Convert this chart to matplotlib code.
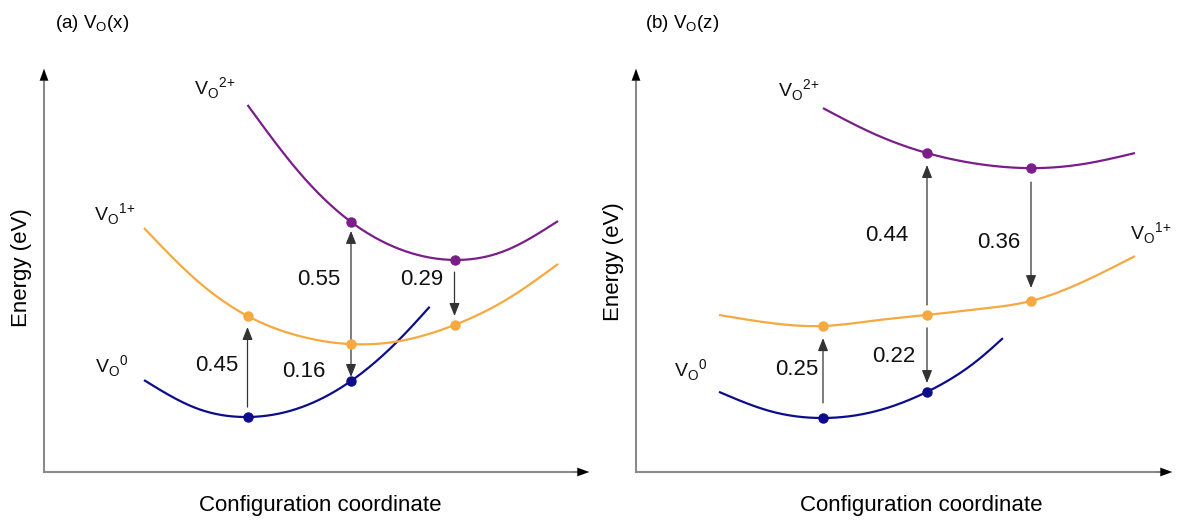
import numpy as np
import matplotlib
matplotlib.use("Agg")
import matplotlib.pyplot as plt

plt.rcParams['font.family'] = ['Liberation Sans', 'DejaVu Sans']
plt.rcParams['mathtext.fontset'] = 'custom'
plt.rcParams['mathtext.rm'] = 'Liberation Sans'

# ---------------- data (configuration coordinate, energy in eV) ----------------
# Panel (a) V_O(x)
a_v0_x = [0, 0.5, 1, 1.5, 2, 2.5, 2.76]
a_v0_e = [0.164, 0.04, 0.0, 0.04, 0.16, 0.36, 0.49]
a_v1_x = [0, 0.5, 1, 1.5, 2, 2.5, 3, 3.5, 4]
a_v1_e = [0.84, 0.611, 0.449, 0.36, 0.324, 0.34, 0.409, 0.521, 0.68]
a_v2_x = [1, 1.5, 2, 2.5, 3, 3.5, 4]
a_v2_e = [1.387, 1.087, 0.867, 0.741, 0.698, 0.741, 0.871]
a_v0_pts = [1, 2]
a_v1_pts = [1, 2, 3]
a_v2_pts = [2, 3]
# transitions: x, start energy, end energy, label
a_arrows_x = [1, 2, 2, 3]
a_arrows_from = [0.044, 0.342, 0.307, 0.644]
a_arrows_to = [0.40, 0.827, 0.178, 0.449]
a_labels = ['0.45', '0.55', '0.16', '0.29']

# Panel (b) V_O(z)
b_v0_x = [0, 0.5, 1, 1.5, 2, 2.5, 2.73]
b_v0_e = [0.071, 0.018, 0.0, 0.018, 0.071, 0.16, 0.217]
b_v1_x = [0, 0.5, 1, 1.5, 2, 2.5, 3, 3.5, 4]
b_v1_e = [0.280, 0.258, 0.250, 0.265, 0.280, 0.296, 0.318, 0.37, 0.44]
b_v2_x = [1, 1.5, 2, 2.5, 3, 3.5, 4]
b_v2_e = [0.842, 0.771, 0.72, 0.690, 0.679, 0.690, 0.72]
b_v0_pts = [1, 2]
b_v1_pts = [1, 2, 3]
b_v2_pts = [2, 3]
b_arrows_x = [1, 2, 2, 3]
b_arrows_from = [0.041, 0.245, 0.307, 0.641]
b_arrows_to = [0.217, 0.095, 0.6875, 0.353]
b_labels = ['0.25', '0.22', '0.44', '0.36']

C_V0 = '#0d0d8c'
C_V1 = '#f5a940'
C_V2 = '#7a1f8a'


def spline(x, y, n=300):
    """natural cubic spline for a smooth drawn curve through the read points"""
    x = np.asarray(x, float); y = np.asarray(y, float)
    m = len(x); h = np.diff(x)
    A = np.zeros((m, m)); r = np.zeros(m)
    A[0, 0] = A[-1, -1] = 1
    for i in range(1, m - 1):
        A[i, i - 1] = h[i - 1]; A[i, i] = 2 * (h[i - 1] + h[i]); A[i, i + 1] = h[i]
        r[i] = 3 * ((y[i + 1] - y[i]) / h[i] - (y[i] - y[i - 1]) / h[i - 1])
    c = np.linalg.solve(A, r)
    b = (y[1:] - y[:-1]) / h - h * (2 * c[:-1] + c[1:]) / 3
    d = (c[1:] - c[:-1]) / (3 * h)
    xs = np.linspace(x[0], x[-1], n)
    idx = np.clip(np.searchsorted(x, xs) - 1, 0, m - 2)
    dx = xs - x[idx]
    ys = y[idx] + b[idx] * dx + c[idx] * dx ** 2 + d[idx] * dx ** 3
    return xs, ys


fig = plt.figure(figsize=(11.78, 5.21), dpi=100)
W, H = 1178.0, 521.0


def make_axes(left_px, right_px, top_px, bottom_px):
    ax = fig.add_axes([left_px / W, 1 - bottom_px / H, (right_px - left_px) / W,
                       (bottom_px - top_px) / H])
    for s in ax.spines.values():
        s.set_visible(False)
    ax.set_xticks([]); ax.set_yticks([])
    ax.patch.set_alpha(0)
    ax.plot([0, 0], [0, 0.985], transform=ax.transAxes, color='#8a8a8a', lw=1.5, clip_on=False)
    ax.plot([0, 0.985], [0, 0], transform=ax.transAxes, color='#8a8a8a', lw=1.5, clip_on=False)
    ax.annotate('', xy=(0, 1), xytext=(0, 0.96), xycoords='axes fraction',
                arrowprops=dict(arrowstyle='-|>,head_length=0.6,head_width=0.22', color='black', lw=0.1, mutation_scale=14))
    ax.annotate('', xy=(1, 0), xytext=(0.96, 0), xycoords='axes fraction',
                arrowprops=dict(arrowstyle='-|>,head_length=0.6,head_width=0.22', color='black', lw=0.1, mutation_scale=14))
    return ax


def vlabel(sup):
    return r'V$_\mathregular{O}$$^\mathregular{' + sup + '}$'


def draw_panel(ax, curves, arrows, labels, label_pos, vlabels):
    for (cx, ce, pts, col) in curves:
        xs, ys = spline(cx, ce)
        ax.plot(xs, ys, color=col, lw=1.6, solid_capstyle='butt', zorder=2)
        pe = [ce[cx.index(p)] for p in pts]
        ax.plot(pts, pe, 'o', color=col, ms=6.5, zorder=4)
    ax_x, a_from, a_to = arrows
    for x, e0, e1 in zip(ax_x, a_from, a_to):
        ax.annotate('', xy=(x, e1), xytext=(x, e0),
                    arrowprops=dict(arrowstyle='-|>,head_length=0.55,head_width=0.22',
                                    color='#333333', lw=0.9, mutation_scale=14,
                                    shrinkA=0, shrinkB=0), zorder=3)
    for txt, (lx, ly) in zip(labels, label_pos):
        ax.text(lx, ly, txt, fontsize=16, ha='center', va='center', color='#111111')
    for txt, (lx, ly) in vlabels:
        ax.text(lx, ly, txt, fontsize=14, ha='left', va='baseline', color='#111111')


# ---------------- panel (a) ----------------
axa = make_axes(44, 592, 66, 472)
axa.set_xlim((44 - 144) / 103.5, (592 - 144) / 103.5)
axa.set_ylim((417 - 472) / 225.0, (417 - 66) / 225.0)
draw_panel(axa,
           [(a_v0_x, a_v0_e, a_v0_pts, C_V0),
            (a_v1_x, a_v1_e, a_v1_pts, C_V1),
            (a_v2_x, a_v2_e, a_v2_pts, C_V2)],
           (a_arrows_x, a_arrows_from, a_arrows_to),
           a_labels,
           [(0.705, 0.227), (1.69, 0.613), (1.546, 0.204), (2.686, 0.609)],
           [(vlabel('2{+}'), (0.483, 1.43)),
            (vlabel('1{+}'), (-0.483, 0.87)),
            (vlabel('0'), (-0.473, 0.196))])

# ---------------- panel (b) ----------------
axb = make_axes(636, 1175, 66, 472)
axb.set_xlim((636 - 719) / 104.0, (1175 - 719) / 104.0)
axb.set_ylim((418 - 472) / 368.0, (418 - 66) / 368.0)
draw_panel(axb,
           [(b_v0_x, b_v0_e, b_v0_pts, C_V0),
            (b_v1_x, b_v1_e, b_v1_pts, C_V1),
            (b_v2_x, b_v2_e, b_v2_pts, C_V2)],
           (b_arrows_x, b_arrows_from, b_arrows_to),
           b_labels,
           [(0.75, 0.133), (1.683, 0.168), (1.615, 0.497), (2.692, 0.476)],
           [(vlabel('2{+}'), (0.567, 0.872)),
            (vlabel('1{+}'), (3.952, 0.484)),
            (vlabel('0'), (-0.433, 0.111))])

# ---------------- titles and axis labels ----------------
fig.text(55 / W, 1 - 24 / H, r'(a) V$_\mathregular{O}$(x)', fontsize=13.5, ha='left', va='center')
fig.text(645 / W, 1 - 24 / H, r'(b) V$_\mathregular{O}$(z)', fontsize=13.5, ha='left', va='center')
fig.text(22 / W, 1 - 268 / H, 'Energy (eV)', fontsize=16, rotation=90, ha='center', va='center')
fig.text(613 / W, 1 - 262 / H, 'Energy (eV)', fontsize=16, rotation=90, ha='center', va='center')
fig.text(320 / W, 1 - 505 / H, 'Configuration coordinate', fontsize=16, ha='center', va='center')
fig.text(921 / W, 1 - 505 / H, 'Configuration coordinate', fontsize=16, ha='center', va='center')

fig.savefig('out.png', dpi=100)
